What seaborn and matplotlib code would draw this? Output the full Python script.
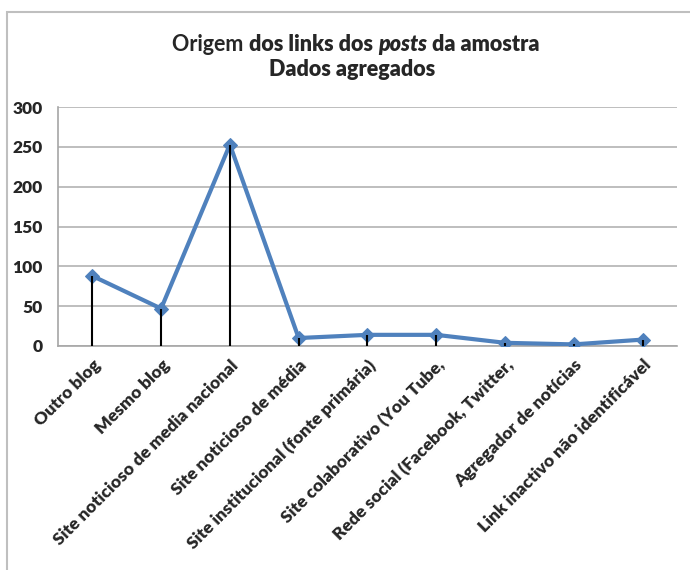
import matplotlib
matplotlib.use("Agg")
import matplotlib.pyplot as plt
import matplotlib.transforms as mtransforms
import seaborn as sns
import numpy as np
import pandas as pd
from matplotlib.patches import Rectangle

categorias = [
    "Outro blog",
    "Mesmo blog",
    "Site noticioso de media nacional",
    "Site noticioso de média",
    "Site institucional (fonte primária)",
    "Site colaborativo (You Tube,",
    "Rede social (Facebook, Twitter,",
    "Agregador de notícias",
    "Link inactivo não identificável",
]
valores = [88, 47, 253, 10, 14, 14, 4, 2, 8]
y_ticks = [0, 50, 100, 150, 200, 250, 300]

df = pd.DataFrame({"pos": np.arange(len(categorias)), "origem": categorias, "n": valores})

sns.set_theme(style="white")
plt.rcParams["font.family"] = ["Lato", "DejaVu Sans"]

fig = plt.figure(figsize=(6.9, 5.7), dpi=100)
ax = fig.add_axes([0.084, 0.393, 0.897, 0.419])

sns.lineplot(data=df, x="pos", y="n", ax=ax, color="#4F81BD", linewidth=3,
             marker="D", markersize=7.5, markeredgecolor="#4F81BD", zorder=3)
# drop lines (drawn over the series, like Excel)
ax.vlines(df["pos"], 0, df["n"], color="black", linewidth=1.5, zorder=4)

ax.set_xlim(-0.5, len(categorias) - 0.5)
ax.set_ylim(0, 300)
ax.set_yticks(y_ticks)
ax.set_yticklabels([str(t) for t in y_ticks], fontsize=12.5, fontweight="heavy")
ax.yaxis.grid(True, color="#B3B3B3", linewidth=1.2)
ax.set_axisbelow(True)

ax.set_xticks(df["pos"])
ax.set_xticklabels(categorias, rotation=45, ha="right", rotation_mode="anchor",
                   fontsize=12.6, fontweight="heavy")
offset = mtransforms.ScaledTranslation(15 / 100, 0, fig.dpi_scale_trans)
for lab in ax.get_xticklabels():
    lab.set_transform(lab.get_transform() + offset)
ax.set_xticks(np.arange(-0.5, len(categorias)), minor=True)
ax.tick_params(axis="x", which="major", length=0, pad=8)
ax.tick_params(axis="x", which="minor", length=5, color="#A6A6A6", width=1.2, direction="out")
ax.tick_params(axis="y", length=5, color="#A6A6A6", width=1.2, direction="out", pad=6)
ax.set_xlabel("")
ax.set_ylabel("")

for s in ["top", "right"]:
    ax.spines[s].set_visible(False)
for s in ["left", "bottom"]:
    ax.spines[s].set_color("#A6A6A6")
    ax.spines[s].set_linewidth(1.2)

# title with mixed styles
fs = 15.5
t1 = fig.text(0.25, 0.911, "Origem ", fontsize=fs, fontweight="bold", ha="left", va="baseline")
t2 = ax.annotate("dos links dos ", xy=(1, 0), xycoords=t1, fontsize=fs, fontweight="heavy",
                 va="bottom", ha="left")
t3 = ax.annotate("posts", xy=(1, 0), xycoords=t2, fontsize=fs, fontweight="heavy",
                 fontstyle="italic", va="bottom", ha="left")
t4 = ax.annotate(" da amostra", xy=(1, 0), xycoords=t3, fontsize=fs, fontweight="heavy",
                 va="bottom", ha="left")
fig.text(0.51, 0.866, "Dados agregados", fontsize=fs, fontweight="heavy", ha="center", va="baseline")

# chart border (cropped on right/bottom)
fig.patches.append(Rectangle((7 / 690, -0.1), 1.2, 1.1 - 12 / 570, transform=fig.transFigure,
                             fill=False, edgecolor="#BFBFBF", linewidth=1.5))

fig.savefig("out.png", dpi=100)
